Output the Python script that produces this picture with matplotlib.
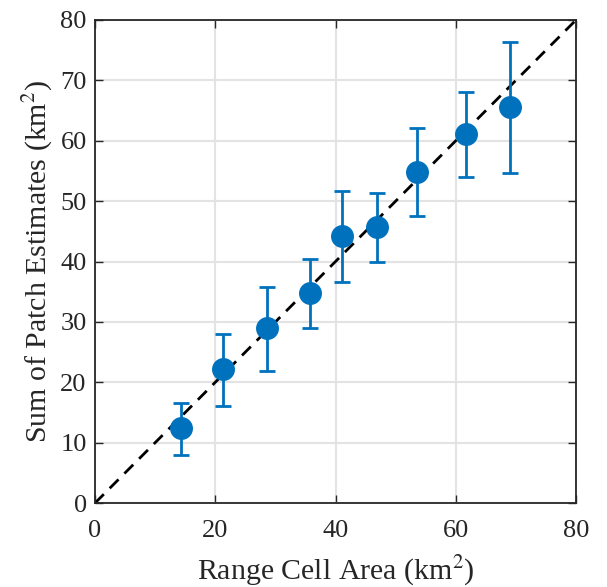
import matplotlib
matplotlib.use("Agg")
import matplotlib.pyplot as plt
import numpy as np

# Range cell area vs. summed patch estimates (km^2)
cell_area = [14.25, 21.34, 28.56, 35.76, 41.03, 46.85, 53.60, 61.65, 69.02]
patch_sum = [12.37, 22.19, 28.93, 34.73, 44.22, 45.77, 54.88, 61.12, 65.64]
err_upper = [16.51, 27.99, 35.78, 40.36, 51.68, 51.30, 62.06, 68.12, 76.30]
err_lower = [7.95, 16.07, 21.92, 28.93, 36.55, 39.92, 47.54, 54.05, 54.60]
ticks = [0, 20, 40, 60, 80]
yticks = [0, 10, 20, 30, 40, 50, 60, 70, 80]

plt.rcParams["font.family"] = ["Liberation Serif", "DejaVu Serif"]
plt.rcParams["mathtext.fontset"] = "stix"

blue = "#0072BD"
dark = "#262626"

fig = plt.figure(figsize=(6.07, 5.87), dpi=100)
ax = fig.add_axes([0.1565, 0.143, 0.7925, 0.823])

y = np.array(patch_sum)
yerr = [y - np.array(err_lower), np.array(err_upper) - y]

ax.plot([0, 80], [0, 80], color="black", lw=2.0, ls=(0, (4.5, 3)), zorder=2)
ax.errorbar(cell_area, patch_sum, yerr=yerr, fmt="o", color=blue,
            ms=15.5, lw=2.0, capsize=6, capthick=2.0, zorder=3)

ax.set_xlim(0, 80)
ax.set_ylim(0, 80)
ax.set_xticks(ticks)
ax.set_yticks(yticks)
ax.grid(True, color="#e3e3e3", lw=1.5)
ax.set_axisbelow(True)
ax.tick_params(direction="in", length=6, width=1.0, colors=dark,
               labelsize=19, top=True, right=True, pad=6)
ax.tick_params(axis="x", pad=12)
for s in ax.spines.values():
    s.set_color(dark)
    s.set_linewidth(1.3)

ax.set_xlabel("Range Cell Area (km$^2$)", fontsize=21.5, color=dark, labelpad=9)
ax.set_ylabel("Sum of Patch Estimates (km$^2$)", fontsize=21.5, color=dark,
              labelpad=4)

fig.savefig("out.png", dpi=100)
